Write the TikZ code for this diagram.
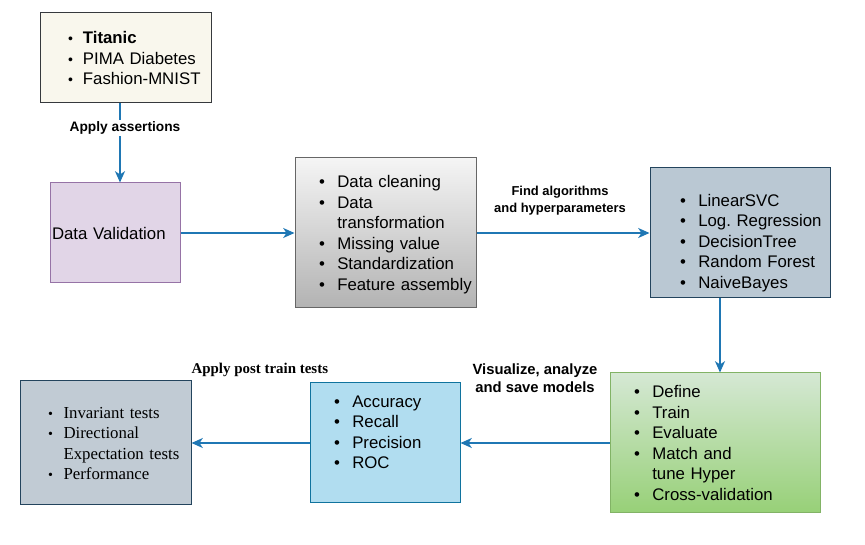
\documentclass[tikz,border=0pt]{standalone}
\usepackage{fontspec}
\setmainfont{Liberation Serif}
\setsansfont{Liberation Sans}
\usepackage{tikz}
\usetikzlibrary{positioning,arrows.meta}
\frenchspacing

\definecolor{flowblue}{HTML}{1F77B4}
\definecolor{datafill}{HTML}{F9F7ED}
\definecolor{dataline}{HTML}{36393D}
\definecolor{valfill}{HTML}{E1D5E7}
\definecolor{valline}{HTML}{9673A6}
\definecolor{algfill}{HTML}{BAC8D3}
\definecolor{algline}{HTML}{23445D}
\definecolor{traintop}{HTML}{D5E8D4}
\definecolor{trainbot}{HTML}{97D077}
\definecolor{trainline}{HTML}{82B366}
\definecolor{metfill}{HTML}{B1DDF0}
\definecolor{metline}{HTML}{10739E}
\definecolor{testfill}{HTML}{C1CBD4}

\newcommand{\boxfont}{\sffamily\fontsize{12.6}{15.4}\selectfont}
\newcommand{\moveby}[2]{\raisebox{#1}[\height][\depth]{#2}}
\newcommand{\blist}[2][9.3pt]{\moveby{-1.5pt}{\begin{tabular}{@{}l@{\hspace{#1}}l@{}}#2\end{tabular}}}
\newcommand{\sbul}{{\fontsize{10.5}{10}\selectfont\textbullet}}

\begin{document}
\begin{tikzpicture}[x=0.75pt, y=-0.75pt,
box/.style={draw, line width=0.75pt, inner sep=0pt, align=left, font=\boxfont},
flow/.style={draw=flowblue, line width=1.2pt, -{Stealth[length=8.5pt, width=7.5pt, inset=2.5pt]}},
lbl/.style={font=\sffamily\bfseries, align=center, inner sep=1pt},
]
\useasboundingbox (0,0) rectangle (865,545);

% boxes
\node[box, fill=datafill, draw=dataline, minimum width=128.25pt, minimum height=67.5pt, text width=86.25pt] (data) at (125.5,58)
  {\blist[7.5pt]{\sbul & \textbf{Titanic}\\ \sbul & PIMA Diabetes\\ \sbul & Fashion-MNIST}};
\node[box, fill=valfill, draw=valline, minimum width=97.5pt, minimum height=75pt, text width=94.5pt] (valid) at (115,233)
  {Data Validation};
\node[box, top color=black!4, bottom color=black!30, draw=black!60, minimum width=135.75pt, minimum height=112.5pt, text width=99.75pt] (prep) at (385.5,233)
  {\blist{\textbullet & Data cleaning\\ \textbullet & Data\\ & transformation\\ \textbullet & Missing value\\ \textbullet & Standardization\\ \textbullet & Feature assembly}};
\node[box, fill=algfill, draw=algline, minimum width=135pt, minimum height=97.5pt, text width=90pt] (algo) at (740,233)
  {\moveby{-6pt}{\blist{\textbullet & LinearSVC\\ \textbullet & Log. Regression\\ \textbullet & DecisionTree\\ \textbullet & Random Forest\\ \textbullet & NaiveBayes}}};
\node[box, top color=traintop, bottom color=trainbot, draw=trainline, minimum width=157.5pt, minimum height=105pt, text width=121.5pt] (train) at (715,443)
  {\blist{\textbullet & Define\\ \textbullet & Train\\ \textbullet & Evaluate\\ \textbullet & Match and\\ & tune Hyper\\ \textbullet & Cross-validation}};
\node[box, fill=metfill, draw=metline, minimum width=112.5pt, minimum height=90pt, text width=76.5pt] (metric) at (385,443)
  {\moveby{8.25pt}{\blist{\textbullet & Accuracy\\ \textbullet & Recall\\ \textbullet & Precision\\ \textbullet & ROC}}};
\node[box, fill=testfill, draw=algline, minimum width=128.25pt, minimum height=93pt, text width=86.25pt, font=\rmfamily\fontsize{12.6}{15.2}\selectfont] (tests) at (105.5,443)
  {\blist[8pt]{\sbul & Invariant tests\\ \sbul & Directional\\ & Expectation tests\\ \sbul & Performance}};

% connectors
\coordinate (dataout) at ([xshift=-4.125pt]data.south);
\coordinate (algoout) at ([xshift=-15pt]algo.south);

\draw[flow] (dataout) -- node[lbl, pos=0.31, fill=white, xshift=3.75pt, font=\sffamily\bfseries\fontsize{10.3}{12}\selectfont] (assert) {Apply assertions} (dataout |- valid.north);
\draw[flow] (valid) -- (prep);
\draw[flow] (prep) -- node[lbl, above=12pt, xshift=-2.25pt, font=\sffamily\bfseries\fontsize{9.7}{12.75}\selectfont] (find) {Find algorithms\\and hyperparameters} (algo);
\draw[flow] (algoout) -- (algoout |- train.north);
\draw[flow] (train) -- node[lbl, above=36pt, font=\sffamily\bfseries\fontsize{11.1}{13.5}\selectfont] (visual) {Visualize, analyze\\and save models} (metric);
\draw[flow] (metric) -- node[lbl, above=48pt, xshift=7pt, font=\rmfamily\bfseries\fontsize{11.2}{13}\selectfont] (post) {Apply post train tests} (tests);
\end{tikzpicture}
\end{document}
